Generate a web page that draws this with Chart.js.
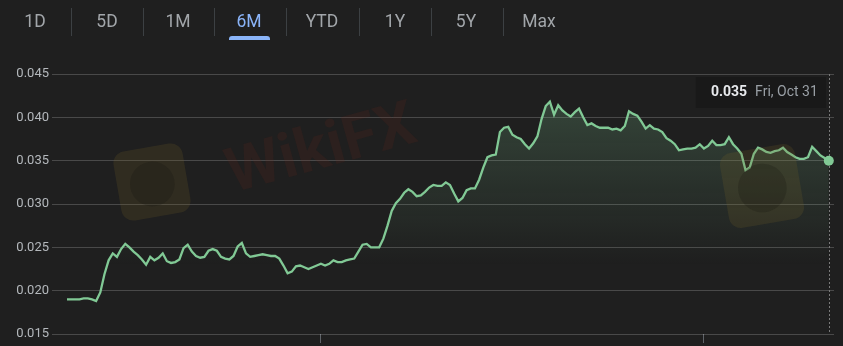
<!DOCTYPE html>
<html>
<head>
<meta charset="utf-8">
<script src="https://cdn.jsdelivr.net/npm/chart.js@4.4.1/dist/chart.umd.min.js"></script>
<style>
  html, body { margin: 0; padding: 0; background: #1f1f1f; }
  #wrap { position: relative; width: 843px; height: 346px; overflow: hidden; font-family: Roboto, "Noto Sans", sans-serif; }
  #chart { position: absolute; left: 0; top: 0; }
  .tab { position: absolute; top: 10px; font-size: 17.5px; line-height: 22px; color: #a2a6aa; transform: translateX(-50%); white-space: nowrap; }
  .tab.on { color: #8ab4f8; }
  .sep { position: absolute; top: 8px; width: 1px; height: 28px; background: #3c4043; }
  .bar { position: absolute; top: 36px; height: 4px; background: #8ab4f8; border-radius: 3px 3px 0 0; }
</style>
</head>
<body>
<div id="wrap">
  <canvas id="chart" width="843" height="346"></canvas>
  <div id="tabs"></div>
</div>
<script>
// range buttons
const tabLabels = ["1D", "5D", "1M", "6M", "YTD", "1Y", "5Y", "Max"];
const tabCenters = [35, 107, 178, 249, 322, 395, 466, 539];
const activeTab = "6M";

// daily closes, May 1 -> Oct 31
const startDay = "2025-05-01";
const prices = [
  0.0190, 0.0190, 0.0190, 0.0190, 0.0191, 0.0191, 0.0190, 0.0188, 0.0198, 0.0219,
  0.0235, 0.0243, 0.0239, 0.0248, 0.0254, 0.0250, 0.0245, 0.0241, 0.0236, 0.0230,
  0.0239, 0.0235, 0.0238, 0.0243, 0.0234, 0.0232, 0.0233, 0.0236, 0.0249, 0.0253,
  0.0245, 0.0240, 0.0238, 0.0239, 0.0246, 0.0248, 0.0246, 0.0239, 0.0237, 0.0236,
  0.0240, 0.0251, 0.0255, 0.0243, 0.0239, 0.0240, 0.0241, 0.0242, 0.0241, 0.0240,
  0.0240, 0.0237, 0.0229, 0.0220, 0.0222, 0.0228, 0.0229, 0.0227, 0.0225, 0.0227,
  0.0229, 0.0231, 0.0229, 0.0231, 0.0235, 0.0233, 0.0233, 0.0235, 0.0236, 0.0237,
  0.0245, 0.0253, 0.0254, 0.0250, 0.0250, 0.0250, 0.0260, 0.0275, 0.0292, 0.0301,
  0.0306, 0.0313, 0.0317, 0.0314, 0.0309, 0.0310, 0.0314, 0.0319, 0.0322, 0.0321,
  0.0321, 0.0325, 0.0322, 0.0312, 0.0303, 0.0307, 0.0316, 0.0318, 0.0318, 0.0328,
  0.0342, 0.0354, 0.0356, 0.0357, 0.0383, 0.0388, 0.0389, 0.0380, 0.0377, 0.0375,
  0.0369, 0.0364, 0.0370, 0.0378, 0.0398, 0.0413, 0.0418, 0.0403, 0.0414, 0.0408,
  0.0404, 0.0401, 0.0406, 0.0410, 0.0400, 0.0391, 0.0393, 0.0390, 0.0388, 0.0388,
  0.0388, 0.0386, 0.0387, 0.0385, 0.0390, 0.0407, 0.0404, 0.0402, 0.0395, 0.0387,
  0.0391, 0.0387, 0.0386, 0.0383, 0.0376, 0.0373, 0.0369, 0.0362, 0.0363, 0.0364,
  0.0364, 0.0365, 0.0369, 0.0364, 0.0367, 0.0373, 0.0368, 0.0368, 0.0369, 0.0377,
  0.0369, 0.0364, 0.0358, 0.0339, 0.0342, 0.0358, 0.0365, 0.0363, 0.0360, 0.0359,
  0.0361, 0.0362, 0.0365, 0.0360, 0.0357, 0.0354, 0.0352, 0.0352, 0.0354, 0.0366,
  0.0361, 0.0356, 0.0353, 0.0350
];
const yTicks = [0.015, 0.020, 0.025, 0.030, 0.035, 0.040, 0.045];
const monthTicks = ["2025-07-01", "2025-10-01"];

// tabs (html)
const tabs = document.getElementById("tabs");
tabLabels.forEach((t, i) => {
  const el = document.createElement("div");
  el.className = "tab" + (t === activeTab ? " on" : "");
  el.style.left = tabCenters[i] + "px";
  el.textContent = t;
  tabs.appendChild(el);
  if (t === activeTab) {
    const b = document.createElement("div");
    b.className = "bar";
    b.style.left = (tabCenters[i] - 20) + "px";
    b.style.width = "41px";
    tabs.appendChild(b);
  }
  if (i < tabLabels.length - 1) {
    const s = document.createElement("div");
    s.className = "sep";
    s.style.left = Math.round((tabCenters[i] + tabCenters[i + 1]) / 2) + "px";
    tabs.appendChild(s);
  }
});

// dates for each point
const DAY = 86400000;
const t0 = Date.parse(startDay + "T00:00:00Z");
const dates = prices.map((v, i) => new Date(t0 + i * DAY));
const tickIdx = monthTicks.map(d => Math.round((Date.parse(d + "T00:00:00Z") - t0) / DAY));
const last = prices.length - 1;

const points = prices.map((v, i) => ({ x: i, y: v }));

// faint watermark
const watermark = {
  id: "watermark",
  afterDraw(chart) {
    const c = chart.ctx;
    c.save();
    const logo = (cx, cy, s, rot) => {
      c.save();
      c.translate(cx, cy);
      c.rotate(rot);
      c.fillStyle = "rgba(120,100,40,0.2)";
      c.beginPath();
      c.roundRect(-s / 2, -s / 2, s, s, 12);
      c.fill();
      c.fillStyle = "rgba(20,18,15,0.22)";
      c.beginPath();
      c.arc(0, 2, s * 0.32, 0, Math.PI * 2);
      c.fill();
      c.restore();
    };
    logo(152, 182, 70, -0.17);
    logo(762, 186, 76, -0.17);
    c.translate(322, 152);
    c.rotate(-0.27);
    c.font = "bold 62px Roboto, sans-serif";
    c.textAlign = "center";
    c.textBaseline = "middle";
    c.fillStyle = "rgba(110,35,25,0.16)";
    c.fillText("WikiFX", 0, 0);
    c.restore();
  }
};

// crosshair + value label at the last point
const lastLabel = {
  id: "lastLabel",
  beforeDatasetsDraw(chart) {
    const c = chart.ctx, a = chart.chartArea;
    const px = Math.round(chart.scales.x.getPixelForValue(last)) + 0.5;
    c.save();
    c.strokeStyle = "#7a7a7a";
    c.lineWidth = 1;
    c.setLineDash([2, 2]);
    c.beginPath();
    c.moveTo(px, a.top);
    c.lineTo(px, a.bottom);
    c.stroke();
    c.restore();
  },
  afterDraw(chart) {
    const c = chart.ctx;
    const px = chart.scales.x.getPixelForValue(last);
    const d = dates[last];
    const dateTxt = d.toLocaleDateString("en-US", { weekday: "short", month: "short", day: "numeric", timeZone: "UTC" });
    const valTxt = prices[last].toFixed(3);
    c.save();
    c.fillStyle = "rgba(24,24,24,0.9)";
    c.fillRect(px - 133, 77, 130, 31);
    c.textBaseline = "middle";
    c.textAlign = "right";
    c.font = "14px Roboto, sans-serif";
    c.fillStyle = "#9aa0a6";
    const right = px - 11;
    c.fillText(dateTxt, right, 92);
    const w = c.measureText(dateTxt).width;
    c.font = "bold 14px Roboto, sans-serif";
    c.fillStyle = "#e8eaed";
    c.fillText(valTxt, right - w - 8, 92);
    c.restore();
  }
};

new Chart(document.getElementById("chart"), {
  type: "line",
  data: {
    datasets: [{
      data: points,
      borderColor: "#81c995",
      borderWidth: 2.3,
      tension: 0,
      fill: "start",
      backgroundColor: (ctx) => {
        const area = ctx.chart.chartArea;
        if (!area) return "rgba(0,0,0,0)";
        const g = ctx.chart.ctx.createLinearGradient(0, 100, 0, 265);
        g.addColorStop(0, "rgba(129,201,149,0.22)");
        g.addColorStop(1, "rgba(129,201,149,0)");
        return g;
      },
      pointRadius: (ctx) => ctx.dataIndex === last ? 5 : 0,
      pointBackgroundColor: "#81c995",
      pointBorderWidth: 0
    }]
  },
  options: {
    responsive: false,
    animation: false,
    events: [],
    layout: { padding: { top: 74, right: 9, left: 0, bottom: 0 } },
    plugins: { legend: { display: false }, tooltip: { enabled: false } },
    scales: {
      x: {
        type: "linear",
        min: -3.6,
        max: 184.25,
        afterBuildTicks: (s) => { s.ticks = tickIdx.map(v => ({ value: v })); },
        afterFit: (s) => { s.height = 12; },
        ticks: { display: false },
        grid: { drawOnChartArea: false, drawTicks: true, tickLength: 9, color: "#5f6368" },
        border: { display: false }
      },
      y: {
        min: 0.015,
        max: 0.045,
        afterBuildTicks: (s) => { s.ticks = yTicks.map(v => ({ value: v })); },
        afterFit: (s) => { s.width = 52; },
        ticks: {
          color: "#b4b8bc",
          font: { family: "Roboto", size: 13 },
          padding: 3,
          callback: (v) => v.toFixed(3)
        },
        grid: { color: "rgba(255,255,255,0.19)", drawTicks: false },
        border: { display: false }
      }
    }
  },
  plugins: [watermark, lastLabel]
});
</script>
</body>
</html>
